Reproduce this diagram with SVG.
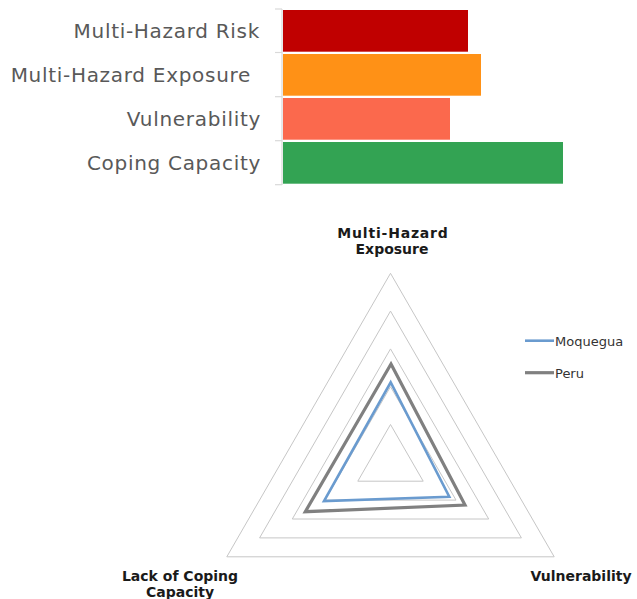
<svg xmlns="http://www.w3.org/2000/svg" width="637" height="599" viewBox="0 0 637 599">
<style>
.bl{font-family:"DejaVu Sans",Verdana,sans-serif;font-size:20px;letter-spacing:0.7px;fill:#595959;text-anchor:end}
.ax{stroke:#d9d9d9;stroke-width:1.2;fill:none}
.grid{stroke:#c6c6c6;stroke-width:1;fill:none}
.rl{font-family:"DejaVu Sans",Verdana,sans-serif;font-size:14px;font-weight:bold;fill:#1a1a1a;text-anchor:middle}
.lg{font-family:"DejaVu Sans",Verdana,sans-serif;font-size:13px;fill:#333}
.moq{stroke:#6a9bcf;stroke-width:2.6;fill:none;stroke-linejoin:miter}
.per{stroke:#808080;stroke-width:3.2;fill:none;stroke-linejoin:miter}
</style>
<rect width="637" height="599" fill="#fff"/>
<g id="bar-chart">
<g id="axis">
<line class="ax" x1="282" y1="9" x2="282" y2="185"/>
<line class="ax" x1="275" y1="9" x2="282" y2="9"/>
<line class="ax" x1="275" y1="52.5" x2="282" y2="52.5"/>
<line class="ax" x1="275" y1="96.7" x2="282" y2="96.7"/>
<line class="ax" x1="275" y1="140.7" x2="282" y2="140.7"/>
<line class="ax" x1="275" y1="184.7" x2="282" y2="184.7"/>
</g>
<g id="bar-risk"><rect x="283" y="10" width="185" height="41.7" fill="#c00000"/><text class="bl" x="260" y="38">Multi-Hazard Risk</text></g>
<g id="bar-exposure"><rect x="283" y="54" width="198" height="41.7" fill="#ff9116"/><text class="bl" x="251" y="82">Multi-Hazard Exposure</text></g>
<g id="bar-vulnerability"><rect x="283" y="98" width="167" height="41.7" fill="#fb694d"/><text class="bl" x="261" y="126">Vulnerability</text></g>
<g id="bar-coping"><rect x="283" y="142" width="280" height="41.7" fill="#33a353"/><text class="bl" x="261" y="170">Coping Capacity</text></g>
</g>
<g id="radar">
<g id="grid">
<polygon class="grid" points="390.5,273.3 554.2,556.8 226.8,556.8"/>
<polygon class="grid" points="390.5,311.1 521.4,537.9 259.6,537.9"/>
<polygon class="grid" points="390.5,348.9 488.7,519 292.3,519"/>
<polygon class="grid" points="390.5,386.7 456,500.1 325,500.1"/>
<polygon class="grid" points="390.5,424.5 423.2,481.2 357.8,481.2"/>
</g>
<g id="series">
<polygon class="per" points="391,364 465,505 305.3,511.7"/>
<polygon class="moq" points="390.7,382.3 449.3,496.7 324,501"/>
</g>
<g id="label-exposure"><text class="rl" x="393" y="237.5" letter-spacing="0.8">Multi-Hazard</text><text class="rl" x="392" y="254">Exposure</text></g>
<g id="label-vulnerability"><text class="rl" x="581" y="580.5">Vulnerability</text></g>
<g id="label-coping"><text class="rl" x="180" y="580.5">Lack of Coping</text><text class="rl" x="180" y="597">Capacity</text></g>
<g id="legend">
<line class="moq" x1="525" y1="340.7" x2="554" y2="340.7"/>
<text class="lg" x="555" y="345.5">Moquegua</text>
<line class="per" x1="525" y1="372.7" x2="554" y2="372.7"/>
<text class="lg" x="555" y="377.5">Peru</text>
</g>
</g>
</svg>
